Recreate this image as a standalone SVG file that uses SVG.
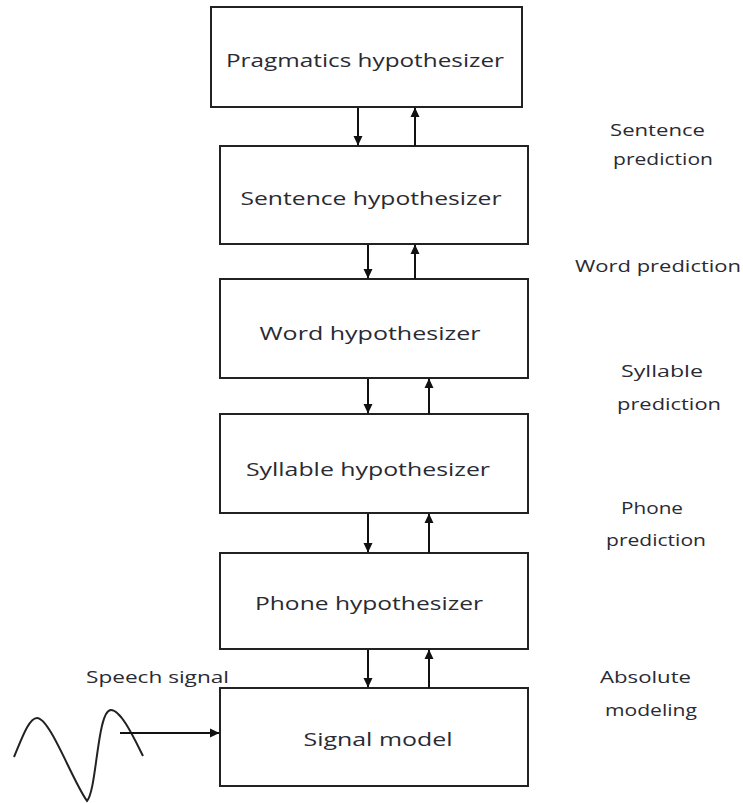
<svg xmlns="http://www.w3.org/2000/svg" width="743" height="803" viewBox="0 0 743 803">
  <defs>
    <marker id="head" markerUnits="userSpaceOnUse" markerWidth="10" markerHeight="10" viewBox="0 0 10 10" refX="9" refY="5" orient="auto">
      <path d="M0,0.5 L9.5,5 L0,9.5 Z" fill="#111"/>
    </marker>
    <style>
      .box { fill: #fff; stroke: #222; stroke-width: 2; }
      .lbl { font-family: "Open Sans", "Liberation Sans", sans-serif; font-size: 19px; fill: #2a2a33; text-anchor: middle; }
      .side { font-family: "Open Sans", "Liberation Sans", sans-serif; font-size: 17px; fill: #2a2a33; }
      .link { stroke: #111; stroke-width: 2; fill: none; marker-end: url(#head); }
    </style>
  </defs>
  <rect width="743" height="803" fill="#fff"/>

  <g id="pragmatics">
    <rect class="box" x="211" y="7" width="311" height="100"/>
    <text class="lbl" x="365" y="67" textLength="278" lengthAdjust="spacingAndGlyphs">Pragmatics hypothesizer</text>
  </g>
  <g id="sentence">
    <rect class="box" x="220" y="146" width="308" height="98"/>
    <text class="lbl" x="371" y="205" textLength="261" lengthAdjust="spacingAndGlyphs">Sentence hypothesizer</text>
  </g>
  <g id="word">
    <rect class="box" x="220" y="279" width="308" height="99"/>
    <text class="lbl" x="370" y="340" textLength="221" lengthAdjust="spacingAndGlyphs">Word hypothesizer</text>
  </g>
  <g id="syllable">
    <rect class="box" x="220" y="414" width="308" height="99"/>
    <text class="lbl" x="368" y="476" textLength="244" lengthAdjust="spacingAndGlyphs">Syllable hypothesizer</text>
  </g>
  <g id="phone">
    <rect class="box" x="220" y="553" width="308" height="96"/>
    <text class="lbl" x="369" y="610" textLength="228" lengthAdjust="spacingAndGlyphs">Phone hypothesizer</text>
  </g>
  <g id="signal">
    <rect class="box" x="220" y="688" width="308" height="98"/>
    <text class="lbl" x="378" y="746" textLength="149" lengthAdjust="spacingAndGlyphs">Signal model</text>
  </g>

  <g id="input">
    <path d="M14,757 C22,738 29,718 37,718 C50,718 72,780 87,801 C97,790 97,710 111,710 C121,710 134,738 143,756" fill="none" stroke="#222" stroke-width="2"/>
    <text class="side" x="86" y="683" textLength="143" lengthAdjust="spacingAndGlyphs">Speech signal</text>
  </g>

  <g id="side-labels">
    <text class="side" x="610" y="136" textLength="95" lengthAdjust="spacingAndGlyphs">Sentence</text>
    <text class="side" x="613" y="165" textLength="100" lengthAdjust="spacingAndGlyphs">prediction</text>
    <text class="side" x="575" y="272" textLength="166" lengthAdjust="spacingAndGlyphs">Word prediction</text>
    <text class="side" x="621" y="377" textLength="82" lengthAdjust="spacingAndGlyphs">Syllable</text>
    <text class="side" x="617" y="410" textLength="104" lengthAdjust="spacingAndGlyphs">prediction</text>
    <text class="side" x="621" y="514" textLength="62" lengthAdjust="spacingAndGlyphs">Phone</text>
    <text class="side" x="606" y="546" textLength="100" lengthAdjust="spacingAndGlyphs">prediction</text>
    <text class="side" x="600" y="683" textLength="91" lengthAdjust="spacingAndGlyphs">Absolute</text>
    <text class="side" x="605" y="716" textLength="92" lengthAdjust="spacingAndGlyphs">modeling</text>
  </g>

  <g id="connectors">
    <line class="link" x1="358" y1="108" x2="358" y2="145"/>
    <line class="link" x1="415" y1="146" x2="415" y2="108"/>
    <line class="link" x1="368" y1="245" x2="368" y2="278"/>
    <line class="link" x1="415" y1="279" x2="415" y2="245"/>
    <line class="link" x1="368" y1="379" x2="368" y2="413"/>
    <line class="link" x1="429" y1="414" x2="429" y2="379"/>
    <line class="link" x1="368" y1="514" x2="368" y2="552"/>
    <line class="link" x1="429" y1="553" x2="429" y2="514"/>
    <line class="link" x1="368" y1="650" x2="368" y2="687"/>
    <line class="link" x1="429" y1="688" x2="429" y2="650"/>
    <line class="link" x1="120" y1="733" x2="219" y2="733"/>
  </g>
</svg>
